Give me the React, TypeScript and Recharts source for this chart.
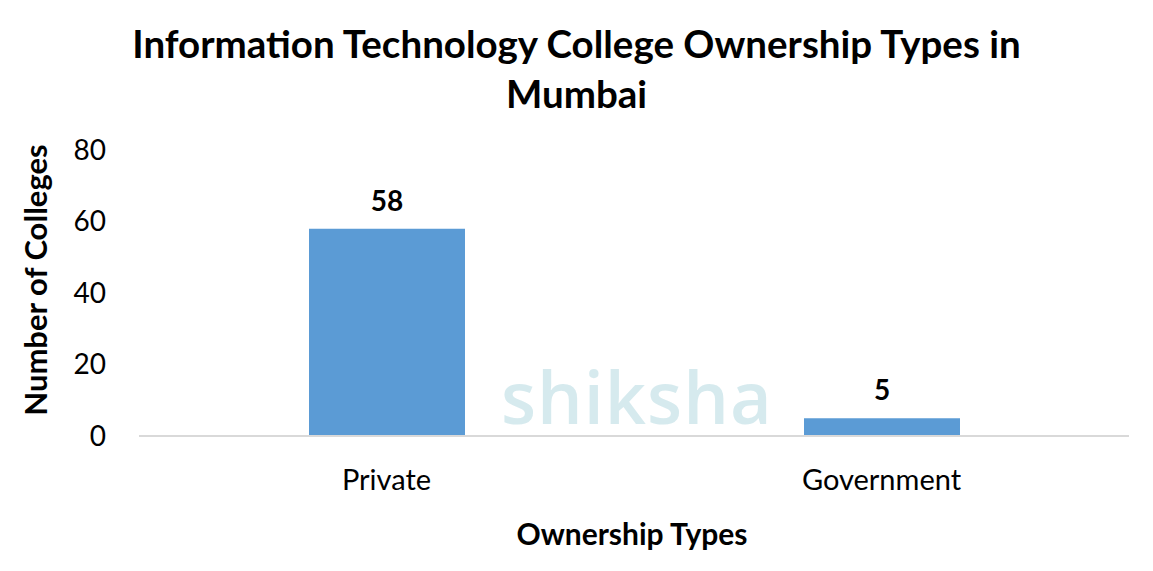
import React from 'react';
import { BarChart, Bar, XAxis, YAxis, LabelList } from 'recharts';

// Ownership types and college counts
const ownershipTypes = ['Private', 'Government'];
const collegeCounts = [58, 5];
const yTicks = [0, 20, 40, 60, 80];

const chartData = ownershipTypes.map((type, i) => ({
  type,
  colleges: collegeCounts[i],
}));

const FONT = 'Lato, Carlito, Calibri, "Open Sans", sans-serif';

const YLabel = () => {
  const cy = 280;
  return (
    <text
      x={35}
      y={cy}
      transform={`rotate(-90, 35, ${cy})`}
      textAnchor="middle"
      dominantBaseline="central"
      style={{ fontSize: 31, fontWeight: 700, fill: '#000', fontFamily: FONT }}
    >
      Number of Colleges
    </text>
  );
};

const XLabel = () => (
  <text
    x={632}
    y={545}
    textAnchor="middle"
    style={{ fontSize: 30, fontWeight: 700, fill: '#000', fontFamily: FONT }}
  >
    Ownership Types
  </text>
);

export default function App() {
  return (
    <div style={styles.page}>
      <div style={styles.title}>
        Information Technology College Ownership Types in
        <br />
        Mumbai
      </div>
      <BarChart
        width={1153}
        height={571}
        data={chartData}
        margin={{ top: 150, right: 24, bottom: 0, left: 59 }}
        barSize={156}
      >
        <XAxis
          dataKey="type"
          axisLine={{ stroke: '#d9d9d9', strokeWidth: 2 }}
          tickLine={false}
          tickSize={0}
          tickMargin={33}
          height={135}
          tick={{ fontSize: 29, fill: '#000', fontFamily: FONT }}
          label={<XLabel />}
        />
        <YAxis
          domain={[0, 80]}
          ticks={yTicks}
          width={80}
          axisLine={false}
          tickLine={false}
          tickSize={0}
          tickMargin={33}
          tick={{ fontSize: 28, fill: '#000', fontFamily: FONT }}
          label={<YLabel />}
        />
        <Bar dataKey="colleges" fill="#5b9bd5" isAnimationActive={false}>
          <LabelList
            dataKey="colleges"
            position="top"
            offset={18}
            style={{ fontSize: 28, fontWeight: 700, fill: '#000', fontFamily: FONT }}
          />
        </Bar>
      </BarChart>
      <div style={styles.watermark}>shiksha</div>
    </div>
  );
}

const styles = {
  page: {
    position: 'absolute',
    left: 0,
    top: 0,
    width: 1153,
    height: 571,
    background: '#ffffff',
    overflow: 'hidden',
  } as React.CSSProperties,
  title: {
    position: 'absolute',
    left: 0,
    top: 18,
    width: 1153,
    textAlign: 'center',
    fontFamily: FONT,
    fontWeight: 700,
    fontSize: 38.5,
    lineHeight: '50px',
    color: '#000',
  } as React.CSSProperties,
  watermark: {
    position: 'absolute',
    left: 501,
    top: 356,
    fontFamily: '"Open Sans", Lato, sans-serif',
    fontWeight: 600,
    fontSize: 72,
    letterSpacing: 1,
    lineHeight: '80px',
    color: 'rgba(165, 208, 218, 0.45)',
    pointerEvents: 'none',
  } as React.CSSProperties,
};
